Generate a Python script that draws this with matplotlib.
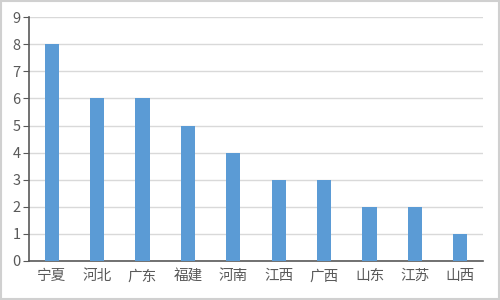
import matplotlib
matplotlib.use("Agg")
import matplotlib.pyplot as plt
from matplotlib.patches import Rectangle

plt.rcParams['font.family'] = ['Noto Sans CJK SC', 'DejaVu Sans']

provinces = ["宁夏", "河北", "广东", "福建", "河南", "江西", "广西", "山东", "江苏", "山西"]
counts = [8, 6, 6, 5, 4, 3, 3, 2, 2, 1]
y_ticks = list(range(0, 10))

fig = plt.figure(figsize=(5, 3), dpi=100)
ax = fig.add_axes([0.058, 0.13, 0.908, 0.813])

x = list(range(len(provinces)))
ax.bar(x, counts, width=0.31, color="#5B9BD5", zorder=3)

ax.set_xlim(-0.5, len(provinces) - 0.5)
ax.set_ylim(0, 9)
ax.set_yticks(y_ticks)
ax.set_xticks(x)
ax.set_xticklabels(provinces)
ax.grid(axis="y", color="#d9d9d9", linewidth=1, zorder=0)

for side in ["top", "right"]:
    ax.spines[side].set_visible(False)
ax.spines["left"].set_color("#595959")
ax.spines["bottom"].set_color("#595959")
ax.spines["left"].set_linewidth(1.2)
ax.spines["bottom"].set_linewidth(1.2)

ax.tick_params(axis="y", length=4, color="#595959", labelsize=10.5, labelcolor="#595959", pad=2)
ax.tick_params(axis="x", length=0, labelsize=10.5, labelcolor="#595959", pad=6)

# light frame around the image
fig.patches.append(Rectangle((0.002, 0.003), 0.995, 0.993, transform=fig.transFigure,
                             fill=False, edgecolor="#d0d0d0", linewidth=1.5))

fig.savefig("out.png", dpi=100)
